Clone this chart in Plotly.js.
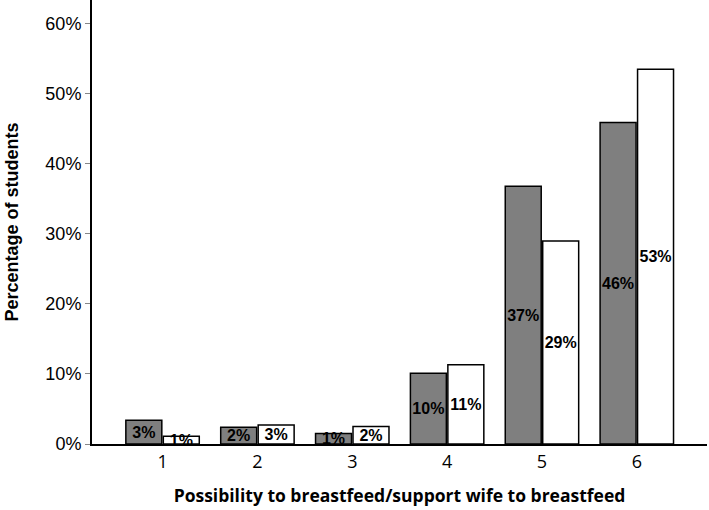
<!DOCTYPE html>
<html>
<head>
<meta charset="utf-8">
<script src="https://cdn.plot.ly/plotly-3.0.1.min.js"></script>
<style>html,body{margin:0;padding:0;background:#fff;}#chart{width:709px;height:510px;}</style>
</head>
<body>
<div id="chart"></div>
<script>
var categories = ['1', '2', '3', '4', '5', '6'];
var seriesA = [3.4, 2.4, 1.5, 10.1, 36.8, 45.9];
var seriesB = [1.1, 2.7, 2.5, 11.3, 29.0, 53.5];
var labelsA = ['3%', '2%', '1%', '10%', '37%', '46%'];
var labelsB = ['1%', '3%', '2%', '11%', '29%', '53%'];
var yTickVals = [0, 10, 20, 30, 40, 50, 60];
var yTickText = ['0%', '10%', '20%', '30%', '40%', '50%', '60%'];

var common = {
  type: 'bar',
  x: categories,
  textposition: 'inside',
  insidetextanchor: 'middle',
  textangle: 0,
  constraintext: 'none',
  cliponaxis: false,
  textfont: {family: 'Liberation Sans, Arial, sans-serif', size: 16, color: '#000', weight: 'bold'},
  hoverinfo: 'none'
};
var traceA = Object.assign({}, common, {
  y: seriesA, text: labelsA,
  marker: {color: '#7f7f7f', line: {color: '#000', width: 1.5}}
});
var traceB = Object.assign({}, common, {
  y: seriesB, text: labelsB,
  marker: {color: '#ffffff', line: {color: '#000', width: 1.5}}
});

var layout = {
  width: 709, height: 510,
  margin: {l: 92, r: 2, t: 0, b: 66},
  paper_bgcolor: '#fff', plot_bgcolor: '#fff',
  showlegend: false,
  barmode: 'group', bargap: 0.21, bargroupgap: 0.04,
  font: {family: 'Liberation Sans, Arial, sans-serif', color: '#000'},
  xaxis: {
    type: 'category',
    range: [-0.744, 5.74],
    showline: true, linecolor: '#000', linewidth: 2,
    ticks: '', showgrid: false, zeroline: false,
    tickfont: {family: 'Open Sans, sans-serif', size: 18, color: '#000'},
    title: {text: 'Possibility to breastfeed/support wife to breastfeed', standoff: 18,
            font: {family: 'Open Sans, sans-serif', size: 17.5, color: '#000', weight: 'bold'}}
  },
  yaxis: {
    range: [0, 63.4],
    tickvals: yTickVals, ticktext: yTickText,
    showline: true, linecolor: '#000', linewidth: 2,
    ticks: 'outside', ticklen: 5, tickcolor: '#888', tickwidth: 1,
    showgrid: false, zeroline: false,
    tickfont: {family: 'Liberation Sans, Arial, sans-serif', size: 18, color: '#000'},
    title: {text: 'Percentage of students', standoff: 22,
            font: {family: 'Liberation Sans, Arial, sans-serif', size: 18, color: '#000', weight: 'bold'}}
  }
};
Plotly.newPlot('chart', [traceA, traceB], layout, {displayModeBar: false, staticPlot: true});
</script>
</body>
</html>
